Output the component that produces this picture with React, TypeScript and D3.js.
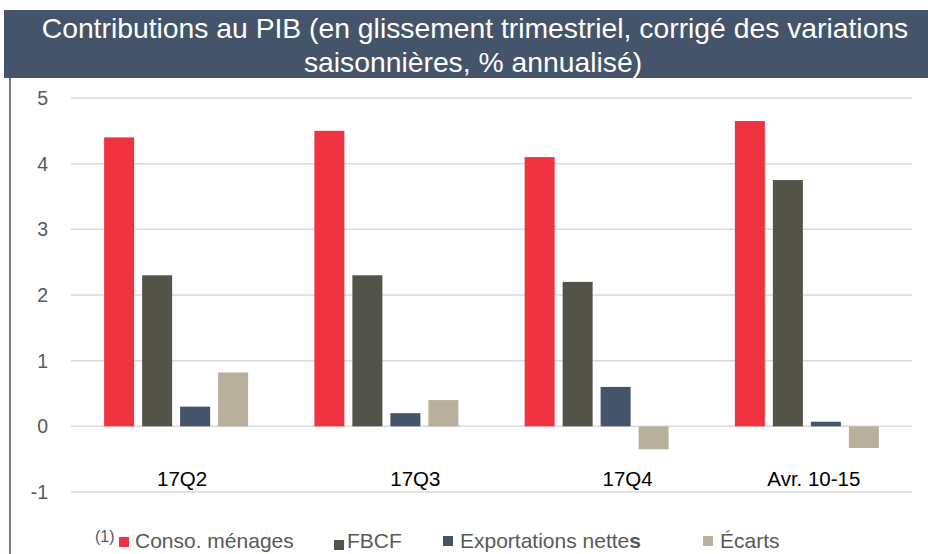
import { useEffect } from 'react'
import * as d3 from 'd3'

const categories = ['17Q2', '17Q3', '17Q4', 'Avr. 10-15']
const seriesNames = ['Conso. ménages', 'FBCF', 'Exportations nettes', 'Écarts']
const consoMenages = [4.4, 4.5, 4.1, 4.65]
const fbcf = [2.3, 2.3, 2.2, 3.75]
const exportationsNettes = [0.3, 0.2, 0.6, 0.07]
const ecarts = [0.82, 0.4, -0.35, -0.33]
const yTicks = [-1, 0, 1, 2, 3, 4, 5]

const seriesValues = [consoMenages, fbcf, exportationsNettes, ecarts]
const colors = ['#EF3340', '#53534A', '#44546A', '#B8B09C']

// Excel put the category labels a bit off-centre
const labelShift = [6, 29, 31, 7]

const W = 928
const H = 554
const plot = { left: 71, right: 912, top: 98, bottom: 492 }

export default function App() {
  useEffect(() => {
    document.body.style.margin = '0'
  }, [])

  const y = d3.scaleLinear().domain([-1, 5]).range([plot.bottom, plot.top])
  const x0 = d3.scaleBand<string>().domain(categories).range([plot.left, plot.right])
  const groupW = 144
  const x1 = d3.scaleBand<string>().domain(seriesNames).range([0, groupW]).paddingInner(8 / 38)
  const font = '"Liberation Sans", Arial, sans-serif'

  const legend = [
    { sq: 119, sy: 537, tx: 135 },
    { sq: 334, sy: 540, tx: 347 },
    { sq: 443, sy: 536, tx: 460 },
    { sq: 703, sy: 536, tx: 720 },
  ]

  return (
    <svg width={W} height={H} style={{ display: 'block', background: '#fff' }} fontFamily={font}>
      <rect x={4} y={10} width={W - 4} height={68} fill="#44546A" />
      <text x={475} y={38} textAnchor="middle" fill="#fff" fontSize={28.3}>
        Contributions au PIB (en glissement trimestriel, corrigé des variations
      </text>
      <text x={473} y={72} textAnchor="middle" fill="#fff" fontSize={28.3}>
        saisonnières, % annualisé)
      </text>
      <line x1={10} x2={10} y1={78} y2={H} stroke="#44546A" strokeWidth={1.5} />

      {yTicks.map((t) => (
        <g key={t}>
          <line x1={plot.left} x2={plot.right} y1={y(t)} y2={y(t)} stroke="#D9D9D9" strokeWidth={1.5} />
          <text x={48} y={y(t) + 7} textAnchor="end" fill="#595959" fontSize={19.5}>
            {t}
          </text>
        </g>
      ))}

      {categories.map((c, i) => {
        const gx = (x0(c) ?? 0) + (x0.bandwidth() - groupW) / 2
        return (
          <g key={c}>
            {seriesNames.map((s, j) => {
              const v = seriesValues[j][i]
              return (
                <rect
                  key={s}
                  x={gx + (x1(s) ?? 0)}
                  y={y(Math.max(0, v))}
                  width={x1.bandwidth()}
                  height={Math.abs(y(v) - y(0))}
                  fill={colors[j]}
                />
              )
            })}
            <text
              x={(x0(c) ?? 0) + x0.bandwidth() / 2 + labelShift[i]}
              y={486}
              textAnchor="middle"
              fill="#000"
              fontSize={20.5}
            >
              {c}
            </text>
          </g>
        )
      })}

      <text x={95} y={542} fill="#595959" fontSize={16}>(1)</text>
      {seriesNames.map((s, j) => (
        <g key={s}>
          <rect x={legend[j].sq} y={legend[j].sy} width={10} height={10} fill={colors[j]} />
          <text x={legend[j].tx} y={548} fill="#595959" fontSize={21}>
            {j === 2 ? (
              <>
                {s.slice(0, -1)}
                <tspan fontWeight="bold">{s.slice(-1)}</tspan>
              </>
            ) : (
              s
            )}
          </text>
        </g>
      ))}
    </svg>
  )
}
